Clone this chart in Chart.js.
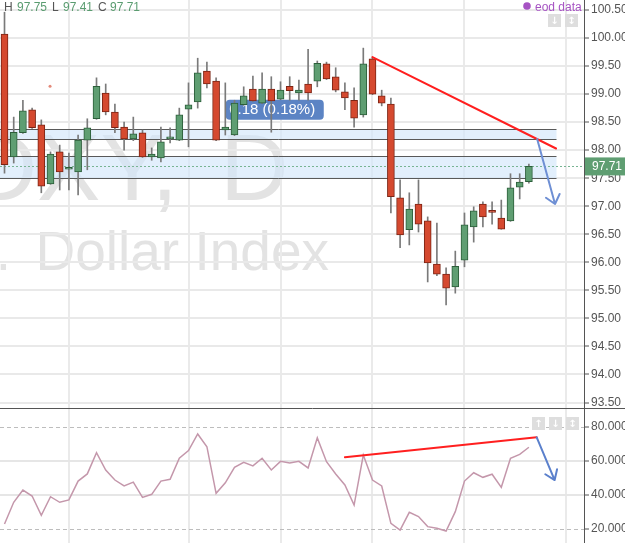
<!DOCTYPE html>
<html>
<head>
<meta charset="utf-8">
<script src="https://cdn.jsdelivr.net/npm/chart.js@4.4.1/dist/chart.umd.min.js"></script>
<style>
  body { margin: 0; background: #fff; }
  #wrap { position: relative; width: 625px; height: 543px; overflow: hidden; }
  canvas { position: absolute; left: 0; }
</style>
</head>
<body>
<div id="wrap">
  <canvas id="priceChart" width="625" height="408" style="top:0"></canvas>
  <canvas id="rsiChart" width="625" height="135" style="top:408px"></canvas>
</div>
<script>
const FONT = "'Liberation Sans', Arial, sans-serif";

// daily candles, oldest first
const openPrices = [100.07, 97.88, 98.31, 98.72, 98.45, 97.40, 97.97, 97.66, 97.61, 98.18,
  98.56, 99.02, 98.68, 98.41, 98.20, 98.31, 97.88, 97.86, 98.20, 98.18,
  98.73, 98.86, 99.41, 99.23, 98.36, 98.27, 98.81, 99.09, 98.84, 99.09,
  98.91, 99.14, 99.02, 99.18, 99.23, 99.54, 99.31, 99.04, 98.89, 98.63,
  99.63, 98.97, 98.82, 97.15, 96.58, 97.04, 96.74, 95.97, 95.79, 95.56,
  96.04, 96.63, 97.04, 96.90, 96.79, 96.74, 97.34, 97.44];
const highPrices = [100.46, 98.59, 98.89, 98.75, 98.54, 97.97, 98.09, 97.95, 98.27, 98.56,
  99.29, 99.18, 98.82, 98.50, 98.59, 98.36, 98.04, 98.41, 98.40, 98.75,
  99.20, 99.64, 99.57, 99.29, 99.20, 98.89, 99.13, 99.32, 99.38, 99.31,
  99.22, 99.31, 99.25, 99.80, 99.59, 99.57, 99.47, 99.20, 99.11, 99.82,
  99.66, 99.07, 98.93, 97.47, 97.24, 97.47, 96.81, 96.70, 95.90, 96.20,
  96.88, 96.99, 97.08, 97.08, 97.11, 97.58, 97.58, 97.75];
const lowPrices = [97.59, 97.77, 98.30, 98.39, 97.24, 97.39, 97.29, 97.29, 97.20, 97.65,
  98.55, 98.63, 98.31, 98.00, 98.17, 97.87, 97.82, 97.79, 98.13, 98.17,
  98.06, 98.75, 99.11, 98.17, 98.27, 98.26, 98.80, 98.87, 98.83, 98.32,
  98.90, 98.89, 98.89, 98.89, 99.13, 99.26, 99.04, 98.72, 98.41, 98.59,
  98.99, 98.79, 96.88, 96.26, 96.31, 96.54, 95.65, 95.76, 95.24, 95.45,
  95.92, 96.36, 96.63, 96.68, 96.59, 96.73, 97.13, 97.41];
const closePrices = [97.74, 98.32, 98.70, 98.40, 97.36, 97.93, 97.61, 97.67, 98.18, 98.40,
  99.14, 98.68, 98.40, 98.20, 98.29, 97.88, 97.93, 98.15, 98.22, 98.63,
  98.81, 99.38, 99.18, 98.18, 98.41, 98.84, 98.97, 98.88, 99.09, 98.88,
  99.07, 99.06, 99.07, 99.02, 99.55, 99.27, 99.07, 98.93, 98.57, 99.54,
  99.00, 98.84, 97.17, 96.49, 96.95, 96.68, 95.99, 95.79, 95.54, 95.93,
  96.67, 96.92, 96.81, 96.89, 96.59, 97.33, 97.43, 97.71];
const rsiValues = [22.9, 35.7, 42.9, 39.4, 28.0, 39.0, 35.7, 37.1, 48.2, 52.4,
  64.9, 54.7, 48.8, 45.3, 47.6, 38.6, 40.4, 48.2, 49.2, 61.6,
  66.1, 75.9, 68.4, 41.0, 47.2, 56.3, 59.2, 57.1, 61.6, 54.7,
  59.8, 58.8, 59.8, 55.9, 73.6, 59.6, 52.4, 45.9, 34.1, 63.5,
  48.8, 45.3, 23.3, 19.4, 29.8, 27.3, 21.4, 20.4, 18.8, 30.2,
  48.2, 53.1, 50.4, 52.2, 44.5, 61.6, 63.9, 68.1];

const priceTicks = [93.5, 94, 94.5, 95, 95.5, 96, 96.5, 97, 97.5, 98, 98.5, 99, 99.5, 100, 100.5];
const rsiTicks = [20, 40, 60, 80];
const rsiLevels = [20, 80];
const monthStarts = [7, 20, 30, 40, 50, 61];

// drawings placed on the chart (day index, value)
const zones = [[98.38, 98.20], [97.90, 97.50]];
const zoneEnd = 60;
const lastPrice = 97.71;
const priceTrend = [[40, 99.66], [59.95, 98.03]];
const priceArrow = [[57.9, 98.20], [59.84, 97.04]];
const rsiTrend = [[37, 62.2], [57.85, 73.9]];
const rsiArrow = [[57.85, 73.9], [59.8, 48.8]];
const changeNote = { day: 24.05, price: 98.9, text: '0.18 (0.18%)' };
const noteDot = [4.95, 99.14];

const UP_FILL = '#5f9e72', UP_LINE = '#2c5e3a';
const DN_FILL = '#d5492f', DN_LINE = '#7c2414';
const dayIdx = openPrices.map((_, i) => i);
const isUp = dayIdx.map(i => closePrices[i] >= openPrices[i]);

function dayAxis() {
  return {
    type: 'linear', min: -0.49, max: 62.99, offset: false,
    afterBuildTicks: s => { s.ticks = monthStarts.map(v => ({ value: v })); },
    ticks: { display: false },
    grid: { color: '#eaeaea', lineWidth: 2, drawTicks: false, offset: false },
    border: { display: false },
    afterFit: s => { s.height = 0; s.paddingLeft = 0; s.paddingRight = 0; }
  };
}

function valueAxis(min, max, tickList, digits, gridColor) {
  return {
    position: 'right', min: min, max: max,
    afterBuildTicks: s => { s.ticks = tickList.map(v => ({ value: v })); },
    ticks: {
      color: '#555', padding: 2, font: { family: FONT, size: 12 },
      callback: v => Number(v).toFixed(digits)
    },
    grid: { color: gridColor, lineWidth: 2, tickLength: 5, tickColor: '#555', tickWidth: 1 },
    border: { color: '#555', width: 1 },
    afterFit: s => { s.width = 41; s.paddingTop = 0; s.paddingBottom = 0; }
  };
}

function pt(chart, p) {
  return [chart.scales.x.getPixelForValue(p[0]), chart.scales.y.getPixelForValue(p[1])];
}

function segment(ctx, chart, a, b, color) {
  const [x1, y1] = pt(chart, a), [x2, y2] = pt(chart, b);
  ctx.save();
  ctx.strokeStyle = color; ctx.lineWidth = 2; ctx.lineCap = 'round';
  ctx.beginPath(); ctx.moveTo(x1, y1); ctx.lineTo(x2, y2); ctx.stroke();
  ctx.restore();
}

function arrow(ctx, chart, a, b, color, spread) {
  const [x1, y1] = pt(chart, a), [x2, y2] = pt(chart, b);
  const ang = Math.atan2(y2 - y1, x2 - x1) + Math.PI;
  const len = 11;
  ctx.save();
  ctx.strokeStyle = color; ctx.lineWidth = 2; ctx.lineCap = 'round'; ctx.lineJoin = 'round';
  ctx.beginPath();
  ctx.moveTo(x1, y1); ctx.lineTo(x2, y2);
  ctx.moveTo(x2 + len * Math.cos(ang - spread), y2 + len * Math.sin(ang - spread));
  ctx.lineTo(x2, y2);
  ctx.lineTo(x2 + len * Math.cos(ang + spread), y2 + len * Math.sin(ang + spread));
  ctx.stroke();
  ctx.restore();
}

function button(ctx, x, y, glyph) {
  ctx.save();
  ctx.fillStyle = '#dedede';
  ctx.fillRect(x, y, 13, 13);
  ctx.fillStyle = '#fff';
  ctx.font = "bold 10px 'DejaVu Sans'";
  ctx.textAlign = 'center'; ctx.textBaseline = 'middle';
  ctx.fillText(glyph, x + 6.5, y + 7);
  ctx.restore();
}

const priceDecor = {
  id: 'priceDecor',
  beforeDraw(chart) {
    const ctx = chart.ctx;
    ctx.save();
    ctx.fillStyle = '#e3e3e3';
    ctx.textBaseline = 'alphabetic';
    ctx.font = `95px ${FONT}`;
    ctx.textAlign = 'right';
    ctx.fillText('DXY,', 178, 200);
    ctx.textAlign = 'left';
    ctx.fillText('D', 220, 200);
    ctx.font = `55px ${FONT}`;
    ctx.textAlign = 'right';
    ctx.fillText('Dollar Index', 329, 270);
    ctx.fillText('U.S.', 11, 270);
    ctx.restore();
  },
  beforeDatasetsDraw(chart) {
    const ctx = chart.ctx, xs = chart.scales.x, ys = chart.scales.y;
    const left = chart.chartArea.left, right = chart.chartArea.right;
    const xe = xs.getPixelForValue(zoneEnd);
    ctx.save();
    zones.forEach(([hi, lo]) => {
      const yt = Math.round(ys.getPixelForValue(hi)) + 0.5;
      const yb = Math.round(ys.getPixelForValue(lo)) + 0.5;
      ctx.fillStyle = 'rgba(210,231,251,0.65)';
      ctx.fillRect(left, yt, xe - left, yb - yt);
      ctx.strokeStyle = '#595959'; ctx.lineWidth = 1;
      ctx.beginPath();
      ctx.moveTo(left, yt); ctx.lineTo(xe, yt);
      ctx.moveTo(left, yb); ctx.lineTo(xe, yb);
      ctx.stroke();
    });
    // current price
    const yl = Math.round(ys.getPixelForValue(lastPrice)) + 0.5;
    ctx.strokeStyle = '#78b493'; ctx.setLineDash([2, 2]);
    ctx.beginPath(); ctx.moveTo(left, yl); ctx.lineTo(right, yl); ctx.stroke();
    ctx.setLineDash([]);
    // change note
    const bx = xs.getPixelForValue(changeNote.day), by = ys.getPixelForValue(changeNote.price);
    ctx.fillStyle = '#5c84c4';
    ctx.beginPath(); ctx.roundRect(bx, by, 98, 20, 4); ctx.fill();
    ctx.fillStyle = '#fff';
    ctx.font = `15px ${FONT}`; ctx.textBaseline = 'middle'; ctx.textAlign = 'left';
    ctx.fillText(changeNote.text, bx + 3.5, by + 10.5);
    const [dx, dy] = pt(chart, noteDot);
    ctx.fillStyle = '#e48a7a';
    ctx.beginPath(); ctx.arc(dx, dy, 1.5, 0, Math.PI * 2); ctx.fill();
    ctx.restore();
  },
  afterDatasetsDraw(chart) {
    const ctx = chart.ctx;
    segment(ctx, chart, priceTrend[0], priceTrend[1], '#ff1f1f');
    arrow(ctx, chart, priceArrow[0], priceArrow[1], '#6e8fd4', 0.7);
  },
  afterDraw(chart) {
    const ctx = chart.ctx, ys = chart.scales.y;
    const n = closePrices.length - 1;
    ctx.save();
    // last price tag
    const yl = ys.getPixelForValue(lastPrice);
    ctx.fillStyle = UP_FILL;
    ctx.fillRect(585, yl - 9, 40, 18);
    ctx.fillStyle = '#fff';
    ctx.font = `12px ${FONT}`; ctx.textBaseline = 'middle'; ctx.textAlign = 'left';
    ctx.fillText(lastPrice.toFixed(2), 592, yl + 0.5);
    // OHLC header
    ctx.textBaseline = 'alphabetic';
    const head = [['H', 4, '#555'], [highPrices[n].toFixed(2), 17, '#5a9c70'],
      ['L', 52, '#555'], [lowPrices[n].toFixed(2), 63, '#5a9c70'],
      ['C', 98, '#555'], [closePrices[n].toFixed(2), 110, '#5a9c70']];
    head.forEach(([t, x, c]) => { ctx.fillStyle = c; ctx.fillText(t, x, 10.5); });
    // eod data
    ctx.fillStyle = '#a653c3';
    ctx.beginPath(); ctx.arc(527, 6, 3.8, 0, Math.PI * 2); ctx.fill();
    ctx.fillText('eod data', 535, 10.5);
    ctx.restore();
    button(ctx, 548, 14, '↓');
    button(ctx, 565, 14, '↕');
  }
};

const rsiDecor = {
  id: 'rsiDecor',
  beforeDatasetsDraw(chart) {
    const ctx = chart.ctx, ys = chart.scales.y;
    ctx.save();
    ctx.strokeStyle = '#bdbdbd'; ctx.lineWidth = 1; ctx.setLineDash([4, 3]);
    rsiLevels.forEach(v => {
      const y = Math.round(ys.getPixelForValue(v)) + 0.5;
      ctx.beginPath(); ctx.moveTo(chart.chartArea.left, y); ctx.lineTo(chart.chartArea.right, y); ctx.stroke();
    });
    ctx.restore();
  },
  afterDraw(chart) {
    const ctx = chart.ctx;
    segment(ctx, chart, rsiTrend[0], rsiTrend[1], '#ff1f1f');
    arrow(ctx, chart, rsiArrow[0], rsiArrow[1], '#5b80cc', 0.62);
    ctx.save();
    ctx.strokeStyle = '#555'; ctx.lineWidth = 1;
    ctx.beginPath(); ctx.moveTo(0, 0.5); ctx.lineTo(625, 0.5); ctx.stroke();
    ctx.restore();
    button(ctx, 532, 9, '↑');
    button(ctx, 549, 9, '↓');
    button(ctx, 566, 9, '↕');
  }
};

new Chart(document.getElementById('priceChart'), {
  type: 'bar',
  data: {
    datasets: [
      {
        label: 'body',
        data: dayIdx.map(i => ({ x: i, y: [openPrices[i], closePrices[i]] })),
        backgroundColor: isUp.map(u => u ? UP_FILL : DN_FILL),
        borderColor: isUp.map(u => u ? UP_LINE : DN_LINE),
        borderWidth: 1,
        borderSkipped: false,
        barThickness: 7,
        minBarLength: 2,
        grouped: false
      },
      {
        label: 'wick',
        data: dayIdx.map(i => ({ x: i, y: [lowPrices[i], highPrices[i]] })),
        backgroundColor: '#7a7a7a',
        borderWidth: 0,
        barThickness: 1,
        grouped: false
      }
    ]
  },
  options: {
    responsive: false,
    animation: false,
    layout: { padding: 0 },
    scales: {
      x: dayAxis(),
      y: valueAxis(93.402, 100.678, priceTicks, 2, '#e9e9e9')
    },
    plugins: { legend: { display: false }, tooltip: { enabled: false } }
  },
  plugins: [priceDecor]
});

new Chart(document.getElementById('rsiChart'), {
  type: 'line',
  data: {
    datasets: [{
      label: 'RSI',
      data: dayIdx.map(i => ({ x: i, y: rsiValues[i] })),
      borderColor: '#c497ab',
      borderWidth: 1.5,
      pointRadius: 0,
      tension: 0
    }]
  },
  options: {
    responsive: false,
    animation: false,
    layout: { padding: 0 },
    scales: {
      x: dayAxis(),
      y: valueAxis(11.765, 91.176, rsiTicks, 3,
        c => rsiLevels.includes(c.tick && c.tick.value) ? 'rgba(0,0,0,0)' : '#e6e6e6')
    },
    plugins: { legend: { display: false }, tooltip: { enabled: false } }
  },
  plugins: [rsiDecor]
});
</script>
</body>
</html>
